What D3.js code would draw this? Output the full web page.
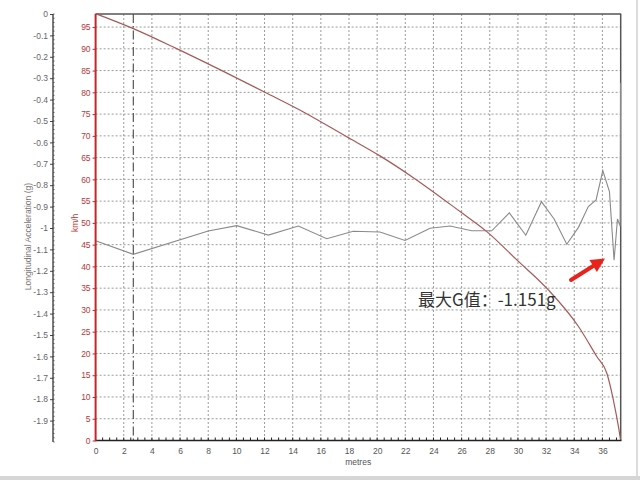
<!DOCTYPE html>
<html>
<head>
<meta charset="utf-8">
<script src="https://cdn.jsdelivr.net/npm/d3@7/dist/d3.min.js"></script>
<style>
  html, body { margin: 0; padding: 0; background: #fff; }
  svg { display: block; font-family: "Liberation Sans", Arial, sans-serif; }
</style>
</head>
<body>
<svg id="chart" width="640" height="480"></svg>
<script>
// ---- data ----
const accDistance = [0, 2.68, 8.0, 10.02, 12.27, 14.4, 16.42, 18.3, 20.2, 21.98, 23.76, 25.18, 26.72, 28.14, 29.39, 30.56, 31.67, 32.57, 33.47, 34.3, 35.0, 35.55, 36.03, 36.5, 36.83, 37.07, 37.26, 37.29];
const accValues   = [-1.06, -1.123, -1.014, -0.989, -1.033, -0.991, -1.05, -1.015, -1.019, -1.058, -1.001, -0.991, -1.013, -1.013, -0.929, -1.034, -0.877, -0.958, -1.076, -0.997, -0.90, -0.869, -0.732, -0.83, -1.151, -0.958, -0.991, -0.322];

const speedDistance = [0, 2.64, 5.72, 8.9, 12.1, 14.76, 17.84, 20.2, 22.57, 25.89, 27.79, 29.92, 32.16, 34.3, 35.6, 36.31, 36.78, 37.14, 37.3];
const speedValues   = [98.1, 94.7, 90.1, 85.1, 79.9, 75.5, 69.8, 65.4, 60.4, 52.6, 48.0, 41.5, 34.6, 26.2, 19.3, 15.5, 9.3, 3.2, 0];

const accTickLabels   = ["0","-0.1","-0.2","-0.3","-0.4","-0.5","-0.6","-0.7","-0.8","-0.9","-1","-1.1","-1.2","-1.3","-1.4","-1.5","-1.6","-1.7","-1.8","-1.9"];
const speedTickLabels = ["0","5","10","15","20","25","30","35","40","45","50","55","60","65","70","75","80","85","90","95"];
const xTickLabels     = ["0","2","4","6","8","10","12","14","16","18","20","22","24","26","28","30","32","34","36"];
const markerDistance  = [2.68];
const annotationText  = "最大G值：-1.151g";
const xTitle = "metres", accTitle = "Longitudinal Acceleration (g)", speedTitle = "km/h";

// ---- scales ----
const svg = d3.select("#chart");
const x = d3.scaleLinear().domain([0, 37.3]).range([95.6, 620.7]);
const yS = d3.scaleLinear().domain([0, 98]).range([440.5, 14]);
const yA = d3.scaleLinear().domain([-2, 0]).range([442, 14]);

const pL = x.range()[0], pR = x.range()[1];
const pT = yS.range()[1], pB = yS.range()[0];

// window border (light gray)
svg.append("rect").attr("x", 0).attr("y", 476).attr("width", 640).attr("height", 4).attr("fill", "#d6d6d6");
svg.append("line").attr("x1", 637).attr("x2", 637).attr("y1", 0).attr("y2", 476).attr("stroke", "#d0d0d0").attr("stroke-width", 1.5);

// grid
const gGrid = svg.append("g");
gGrid.selectAll("line.h").data(speedTickLabels.map(Number).filter(v => v > 0)).enter().append("line")
  .attr("x1", pL).attr("x2", pR)
  .attr("y1", d => yS(d)).attr("y2", d => yS(d))
  .attr("stroke", "#9a9a9a").attr("stroke-width", 1).attr("stroke-dasharray", "2,2");
gGrid.selectAll("line.v").data(xTickLabels.map(Number).filter(v => v > 0)).enter().append("line")
  .attr("x1", d => x(d)).attr("x2", d => x(d))
  .attr("y1", pT).attr("y2", pB)
  .attr("stroke", "#9a9a9a").attr("stroke-width", 1).attr("stroke-dasharray", "2,2");

// dash-dot marker
svg.selectAll("line.marker").data(markerDistance).enter().append("line")
  .attr("x1", d => x(d)).attr("x2", d => x(d)).attr("y1", pT).attr("y2", pB)
  .attr("stroke", "#555").attr("stroke-width", 1.2).attr("stroke-dasharray", "9,3,1.5,3");

// frame top/right
svg.append("line").attr("x1", pL).attr("x2", pR + 0.5).attr("y1", pT).attr("y2", pT).attr("stroke", "#555").attr("stroke-width", 1.5);
svg.append("line").attr("x1", pR).attr("x2", pR).attr("y1", pT).attr("y2", pB).attr("stroke", "#555").attr("stroke-width", 1.5);

// lines
const accLine = d3.line().x((d, i) => x(accDistance[i])).y(d => yA(d));
svg.append("path").datum(accValues).attr("d", accLine)
  .attr("fill", "none").attr("stroke", "#8a8a8a").attr("stroke-width", 1.1);

const speedLine = d3.line().x((d, i) => x(speedDistance[i])).y(d => yS(d)).curve(d3.curveMonotoneX);
svg.append("path").datum(speedValues).attr("d", speedLine)
  .attr("fill", "none").attr("stroke", "#a65a58").attr("stroke-width", 1.2);

// x axis
const xAxis = d3.axisBottom(x).tickValues(xTickLabels.map(Number)).tickFormat((d, i) => xTickLabels[i]).tickSize(0).tickPadding(7);
const gx = svg.append("g").attr("transform", `translate(0,${pB})`).call(xAxis);
gx.select(".domain").remove();
gx.selectAll("text").attr("fill", "#555").attr("font-size", "8.5px");
svg.append("g").selectAll("line").data(d3.range(0, 37.3, 0.5)).enter().append("line")
  .attr("x1", d => x(d)).attr("x2", d => x(d)).attr("y1", pB).attr("y2", pB - 3)
  .attr("stroke", "#222").attr("stroke-width", 1);
svg.append("line").attr("x1", pL).attr("x2", pR + 0.7).attr("y1", pB).attr("y2", pB).attr("stroke", "#222").attr("stroke-width", 1.6);
svg.append("text").attr("x", (pL + pR) / 2).attr("y", 465).attr("text-anchor", "middle")
  .attr("font-size", "8.5px").attr("fill", "#555").text(xTitle);

// speed axis (red)
const sAxis = d3.axisLeft(yS).tickValues(speedTickLabels.map(Number)).tickFormat((d, i) => speedTickLabels[i]).tickSize(3).tickPadding(2);
const gs = svg.append("g").attr("transform", `translate(${pL},0)`).call(sAxis);
gs.select(".domain").remove();
gs.selectAll(".tick line").attr("stroke", "#c0282a");
gs.selectAll("text").attr("fill", "#b23a3a").attr("font-size", "8.5px");
svg.append("line").attr("x1", pL).attr("x2", pL).attr("y1", pT).attr("y2", pB + 0.8).attr("stroke", "#c4262a").attr("stroke-width", 2);
svg.append("text").attr("transform", `translate(78,${(yS(45)+yS(55))/2}) rotate(-90)`)
  .attr("text-anchor", "middle").attr("font-size", "8.5px").attr("fill", "#b23a3a").text(speedTitle);

// accel axis
const axX = 53;
const aAxis = d3.axisLeft(yA).tickValues(accTickLabels.map(Number)).tickFormat((d, i) => accTickLabels[i]).tickSize(3).tickPadding(2);
const ga = svg.append("g").attr("transform", `translate(${axX},0)`).call(aAxis);
ga.select(".domain").remove();
ga.selectAll(".tick line").attr("stroke", "#444");
ga.selectAll("text").attr("fill", "#666").attr("font-size", "8.5px");
svg.append("g").selectAll("line").data(d3.range(0, 101).map(i => -i * 0.02)).enter().append("line")
  .attr("x1", axX).attr("x2", axX + 1.8).attr("y1", d => yA(d)).attr("y2", d => yA(d))
  .attr("stroke", "#666").attr("stroke-width", 0.7);
svg.append("line").attr("x1", axX).attr("x2", axX).attr("y1", yA(0)).attr("y2", yA(-2)).attr("stroke", "#333").attr("stroke-width", 1.3);
svg.append("text").attr("transform", `translate(31,${yA(-1.04)}) rotate(-90)`)
  .attr("text-anchor", "middle").attr("font-size", "8.5px").attr("fill", "#777").text(accTitle);

// annotation
svg.append("text").attr("x", 418).attr("y", 306)
  .attr("font-family", "'Noto Sans CJK SC', sans-serif").attr("font-size", "17px").attr("fill", "#333")
  .text(annotationText);

// red arrow
const arrowTail = [571, 280], arrowTip = [605, 258.5];
const ang = Math.atan2(arrowTip[1] - arrowTail[1], arrowTip[0] - arrowTail[0]);
const headLen = 14, headW = 7;
const bx = arrowTip[0] - headLen * Math.cos(ang), by = arrowTip[1] - headLen * Math.sin(ang);
svg.append("line").attr("x1", arrowTail[0]).attr("y1", arrowTail[1]).attr("x2", bx).attr("y2", by)
  .attr("stroke", "#e8231c").attr("stroke-width", 4).attr("stroke-linecap", "round");
svg.append("path").attr("d", d3.line()([
  arrowTip,
  [bx + headW * Math.sin(ang), by - headW * Math.cos(ang)],
  [bx - headW * Math.sin(ang), by + headW * Math.cos(ang)]
])).attr("fill", "#e8231c");
</script>
</body>
</html>
